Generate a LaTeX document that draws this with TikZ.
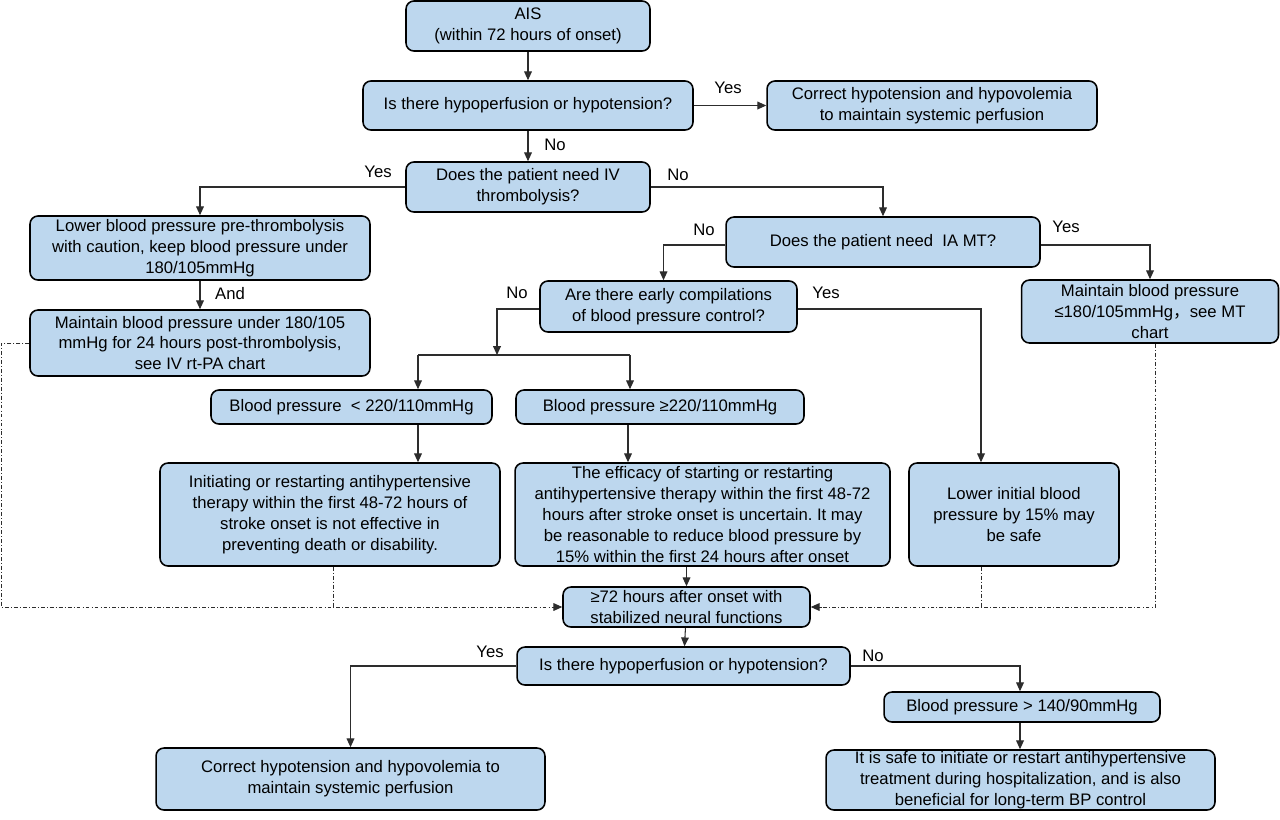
\documentclass[tikz,border=0pt]{standalone}
\usepackage{fontspec}
\setmainfont{Liberation Sans}
\newfontfamily\cjk{Noto Sans CJK SC}
\usepackage{tikz}
\usetikzlibrary{arrows.meta, positioning, calc}
\frenchspacing
\definecolor{boxblue}{RGB}{189,215,238}
\definecolor{linegray}{RGB}{45,45,45}
\tikzset{
  flowbox/.style={draw=black, line width=0.9pt, rounded corners=4.5pt, fill=boxblue,
                  align=center, inner xsep=2pt, inner ysep=0pt,
                  font=\fontsize{9.5}{11.9}\selectfont},
  conn/.style={draw=linegray, line width=0.6pt},
  arr/.style={conn, -{Triangle[length=5pt,width=4.4pt]}},
  dashdot/.style={draw=linegray, line width=0.55pt, dash pattern=on 2.2pt off 1.2pt on 0.5pt off 1.2pt},
  lbl/.style={font=\fontsize{9.5}{11.9}\selectfont, inner sep=0pt}
}
\begin{document}
\begin{tikzpicture}[x=0.02cm, y=-0.02cm]
  \useasboundingbox (0,0) rectangle (1280,819);

  % first phase
  \node[flowbox, minimum width=4.88cm, minimum height=1.0cm] (ais) at (528,26)
    {AIS\\(within 72 hours of onset)};
  \node[flowbox, minimum width=6.6cm, minimum height=0.98cm] (hypoA) at (528,105.5)
    {Is there hypoperfusion or hypotension?};
  \node[flowbox, minimum width=6.6cm, minimum height=0.98cm] (correctA) at (932,105.5)
    {Correct hypotension and hypovolemia\\to maintain systemic perfusion};
  \node[flowbox, minimum width=4.88cm, minimum height=1.0cm] (ivq) at (528,187)
    {Does the patient need IV\\thrombolysis?};
  \node[flowbox, minimum width=6.8cm, minimum height=1.28cm] (lowerpre) at (200,248)
    {Lower blood pressure pre-thrombolysis\\with caution, keep blood pressure under\\180/105mmHg};
  \node[flowbox, minimum width=6.8cm, minimum height=1.32cm] (keep180) at (200,343)
    {Maintain blood pressure under 180/105\\mmHg for 24 hours post-thrombolysis,\\see IV rt-PA chart};
  \node[flowbox, minimum width=6.28cm, minimum height=1.0cm] (iamt) at (883,242)
    {Does the patient need~~IA MT?};
  \node[flowbox, minimum width=5.14cm, minimum height=1.26cm] (mtkeep) at (1150,311.5)
    {Maintain blood pressure\\≤180/105mmHg{\cjk ，}see MT\\chart};
  \node[flowbox, minimum width=5.14cm, minimum height=1.02cm] (earlyq) at (668.5,306.5)
    {Are there early compilations\\of blood pressure control?};

  % blood pressure levels
  \node[flowbox, minimum width=5.62cm, minimum height=0.68cm] (bplow) at (351.5,407)
    {Blood pressure~~< 220/110mmHg};
  \node[flowbox, minimum width=5.76cm, minimum height=0.68cm] (bphigh) at (660,407)
    {Blood pressure ≥220/110mmHg};
  \node[flowbox, minimum width=6.8cm, minimum height=2.06cm] (noeffect) at (330,514.5)
    {Initiating or restarting antihypertensive\\therapy within the first 48-72 hours of\\stroke onset is not effective in\\preventing death or disability.};
  \node[flowbox, minimum width=7.5cm, minimum height=2.06cm] (uncertain) at (702.5,514.5)
    {The efficacy of starting or restarting\\antihypertensive therapy within the first 48-72\\hours after stroke onset is uncertain. It may\\be reasonable to reduce blood pressure by\\15\% within the first 24 hours after onset};
  \node[flowbox, minimum width=4.2cm, minimum height=2.06cm] (lower15) at (1014,514.5)
    {Lower initial blood\\pressure by 15\% may\\be safe};

  % after 72 hours
  \node[flowbox, minimum width=4.94cm, minimum height=0.8cm] (stable) at (686.5,607)
    {≥72 hours after onset with\\stabilized neural functions};
  \node[flowbox, minimum width=6.66cm, minimum height=0.76cm] (hypoB) at (683.5,666)
    {Is there hypoperfusion or hypotension?};
  \node[flowbox, minimum width=7.78cm, minimum height=1.24cm] (correctB) at (350.5,779)
    {Correct hypotension and hypovolemia to\\maintain systemic perfusion};
  \node[flowbox, minimum width=5.52cm, minimum height=0.6cm] (bp140) at (1022,707)
    {Blood pressure > 140/90mmHg};
  \node[flowbox, minimum width=7.78cm, minimum height=1.2cm] (safe) at (1020.5,780)
    {It is safe to initiate or restart antihypertensive\\treatment during hospitalization, and is also\\beneficial for long-term BP control};

  % branch points
  \coordinate (splitM) at (497,355);
  \coordinate (splitL) at (418,355);
  \coordinate (splitR) at (630,355);
  \coordinate (tapR) at ([xshift=-0.66cm]lower15.south);
  \coordinate (inL) at ([xshift=-0.2cm]stable.west);
  \coordinate (inR) at ([xshift=0.2cm]stable.east);

  % connectors
  \draw[arr] (ais) -- (hypoA);
  \draw[arr] (hypoA) -- (correctA);
  \draw[arr] (hypoA) -- (ivq);
  \draw[arr] (ivq.west) -| (lowerpre.north);
  \draw[arr] (ivq.east) -| (iamt.north);
  \draw[arr] (lowerpre) -- (keep180);
  \draw[arr] ([yshift=-0.06cm]iamt.west) -| ([xshift=-0.1cm]earlyq.north);
  \draw[arr] ([yshift=-0.06cm]iamt.east) -| (mtkeep.north);
  \draw[arr] ([yshift=-0.05cm]earlyq.west) -| (splitM);
  \draw[conn] (splitL) -- (splitR);
  \draw[arr] (splitL) -- (splitL |- bplow.north);
  \draw[arr] (splitR) -- (splitR |- bphigh.north);
  \draw[arr] ([yshift=-0.05cm]earlyq.east) -| (tapR |- lower15.north);
  \draw[arr] (splitL |- bplow.south) -- (splitL |- noeffect.north);
  \draw[arr] ([xshift=-0.04cm]splitR |- bphigh.south) -- ([xshift=-0.04cm]splitR |- uncertain.north);
  \draw[arr] (uncertain.south -| stable.north) -- (stable.north);

  % dash-dot returns
  \draw[dashdot] (keep180.west) -- ++(-28,0) |- (inL);
  \draw[arr, line width=0.55pt] (inL) -- (stable.west);
  \draw[dashdot] ([xshift=0.06cm]noeffect.south) -- ([xshift=0.06cm]noeffect.south |- stable.west);
  \draw[dashdot] ([xshift=0.1cm]mtkeep.south) |- (inR);
  \draw[arr, line width=0.55pt] (inR) -- (stable.east);
  \draw[dashdot] (tapR) -- (tapR |- stable.east);

  \draw[arr] (stable) -- (hypoB);
  \draw[arr] (hypoB.west) -| (correctB.north);
  \draw[arr] (hypoB.east) -| ([xshift=-0.04cm]bp140.north);
  \draw[arr] ([xshift=-0.04cm]bp140.south) -- ([xshift=-0.04cm]bp140.south |- safe.north);

  % branch labels
  \node[lbl] (yA) at (728,88) {Yes};
  \node[lbl] (nA) at (555,145) {No};
  \node[lbl] (yB) at (378,172) {Yes};
  \node[lbl] (nB) at (678,175) {No};
  \node[lbl] (andA) at (230,294) {And};
  \node[lbl] (nC) at (704,230) {No};
  \node[lbl] (yC) at (1066,227) {Yes};
  \node[lbl] (nD) at (517,293) {No};
  \node[lbl] (yD) at (826,293) {Yes};
  \node[lbl] (yE) at (490,652) {Yes};
  \node[lbl] (nE) at (873,656) {No};
\end{tikzpicture}
\end{document}
